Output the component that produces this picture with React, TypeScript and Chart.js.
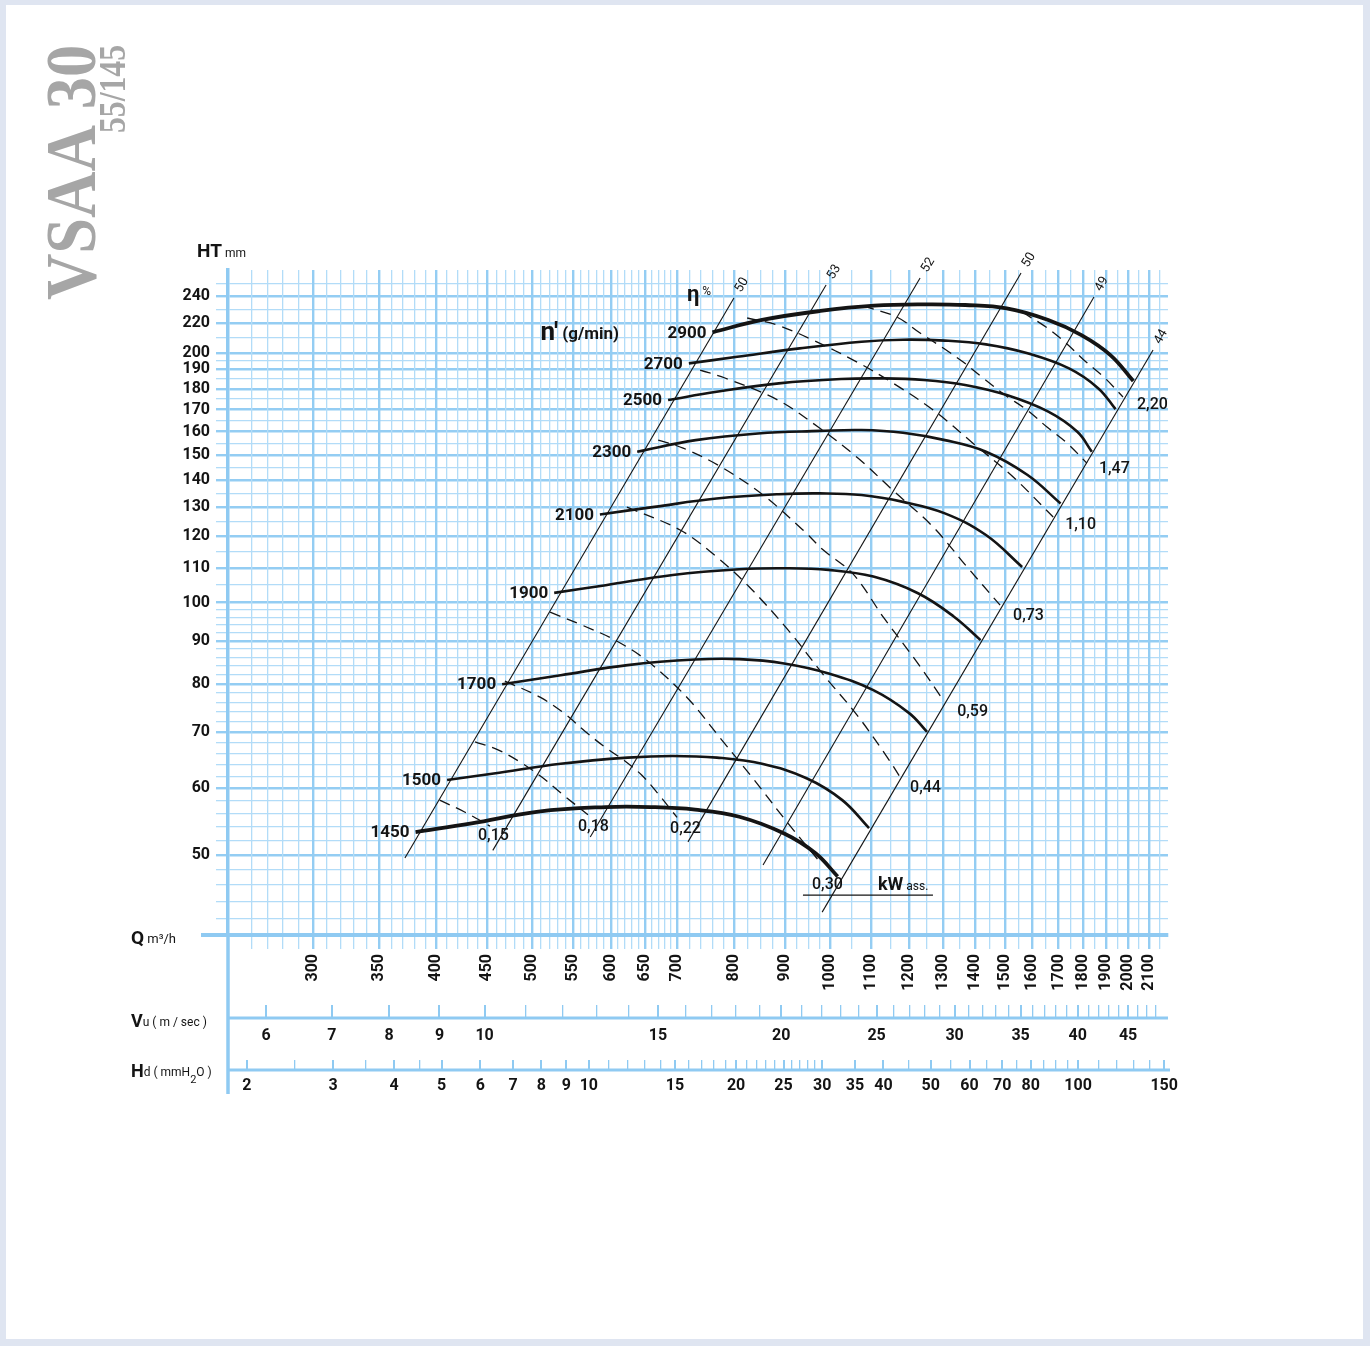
import React, { useEffect, useRef } from 'react';
import { Chart, registerables, LogarithmicScale } from 'chart.js';

Chart.register(...registerables);

// ---------- axis ranges ----------
const Q_MIN = 246.3;
const Q_MAX = 2193;
const H_MIN = 40.1;
const H_MAX = 260.8;
const VU_MIN = 5.49;
const VU_MAX = 49.4;
const HD_MIN = 1.83;
const HD_MAX = 152.7;
// the printed HT scale is logarithmic but a little tighter above 190 mm
const H_KNEE = 190;
const H_TOP_RATE = 0.86;

// ---------- tick labels ----------
const Q_LABELS = [300, 350, 400, 450, 500, 550, 600, 650, 700, 800, 900, 1000, 1100, 1200, 1300, 1400, 1500, 1600, 1700, 1800, 1900, 2000, 2100];
const H_LABELS = [50, 60, 70, 80, 90, 100, 110, 120, 130, 140, 150, 160, 170, 180, 190, 200, 220, 240];
const VU_LABELS = [6, 7, 8, 9, 10, 15, 20, 25, 30, 35, 40, 45];
const HD_LABELS = [2, 3, 4, 5, 6, 7, 8, 9, 10, 15, 20, 25, 30, 35, 40, 50, 60, 70, 80, 100, 150];

// ---------- fan speed curves  [Q m3/h, HT mm] ----------
const SPEED_LABELS = ['2900', '2700', '2500', '2300', '2100', '1900', '1700', '1500', '1450'];
const N2900 = [[760, 213.7], [853, 222.3], [977, 228.8], [1107, 232.7], [1243, 233.7], [1368, 233.2], [1507, 230.7], [1660, 222.3], [1793, 211.8], [1918, 198.7], [2023, 183.9]];
const N2700 = [[719.5, 193.5], [805, 197.6], [931, 203], [1075, 207.4], [1184, 208.7], [1305, 208.1], [1436, 205.6], [1582, 199.8], [1742, 190.4], [1864, 180.3], [1941, 170.2]];
const N2500 = [[685.5, 174.5], [767.5, 178.5], [887, 182.7], [1025, 184.9], [1129, 185.2], [1243, 184.4], [1368, 181.9], [1507, 176.9], [1660, 169], [1776, 159.9], [1837, 151.4]];
const N2300 = [[638, 151.4], [731, 156.3], [845, 159.2], [976, 160.3], [1075, 160.7], [1184, 159.5], [1305, 156.3], [1436, 151.4], [1582, 142], [1708, 131.3]];
const N2100 = [[585, 127.4], [664, 130.1], [767.5, 133.1], [887, 134.7], [976, 135], [1075, 134.4], [1184, 131.9], [1305, 127.8], [1436, 120.4], [1562, 110.3]];
const N1900 = [[526, 102.7], [593, 104.9], [693, 107.9], [809, 109.6], [898, 109.9], [996, 109.4], [1105, 107.4], [1226, 102.6], [1333, 96.2], [1418, 90.2]];
const N1700 = [[466, 79.9], [534, 81.9], [624, 84.2], [730, 85.5], [809, 85.6], [898, 84.6], [996, 82.3], [1105, 78.6], [1201, 73.8], [1252, 70.1]];
const N1500 = [[410, 61.4], [457, 62.5], [534, 64.2], [624, 65.3], [693, 65.6], [768, 65.3], [853, 64.2], [946, 61.7], [1028, 58.1], [1094, 53.8]];
const N1450 = [[381, 53.2], [434, 54.5], [507, 56.3], [593, 57], [658, 57], [730, 56.6], [809, 55.5], [898, 53], [966, 50.2], [1017, 47.1]];
const SPEED_CURVES = [N2900, N2700, N2500, N2300, N2100, N1900, N1700, N1500, N1450];

// ---------- absorbed power lines (kW ass.) ----------
const KW_LABELS = ['0,15', '0,18', '0,22', '0,30', '0,44', '0,59', '0,73', '1,10', '1,47', '2,20'];
const KW_015 = [[403, 58.1], [427.5, 56.2], [453, 54.1]];
const KW_018 = [[437.6, 68.2], [461.6, 66.7], [488, 64.3], [511, 61.9], [535.6, 59.1], [569, 55.8]];
const KW_022 = [[469, 80.6], [509, 77.1], [539.6, 73.6], [565, 70.2], [592, 67.2], [620, 64.7], [645, 62.2], [670, 59.1], [700, 55.4]];
const KW_030 = [[521, 97.4], [561, 94], [606, 90.2], [654, 85.1], [716, 77.1], [774, 68.9], [835, 61.7], [904, 54.7], [976, 49]];
const KW_044 = [[623, 130], [705, 122.1], [768, 113.3], [830, 104.1], [910, 92.2], [983, 82.1], [1064, 73.4], [1141, 65.4], [1176, 61.9]];
const KW_059 = [[670, 156.3], [710, 152.9], [770, 145.9], [853, 134.7], [938, 122.1], [983, 115.6], [1054, 108.2], [1133, 95.8], [1223, 84.9], [1300, 76.5]];
const KW_073 = [[738.5, 189.5], [782.6, 185.4], [885, 174.5], [972, 162], [1066, 148.8], [1156, 136.2], [1270, 123.1], [1374, 110.3], [1484, 99.3]];
const KW_110 = [[824, 223.7], [883, 218.8], [960, 208.5], [1064, 194.3], [1156, 182.9], [1270, 169.8], [1393, 155], [1530, 141.2], [1679, 126.5]];
const KW_147 = [[1079, 232.5], [1167, 224.4], [1232, 213.2], [1300, 203.2], [1362, 194.3], [1426, 185.4], [1501, 176.9], [1580, 169.8], [1655, 162], [1734, 155], [1816, 146.7]];
const KW_220 = [[1562, 228], [1651, 217.3], [1730, 206.5], [1803, 195.6], [1889, 185.9], [1975, 176]];
const KW_CURVES = [KW_015, KW_018, KW_022, KW_030, KW_044, KW_059, KW_073, KW_110, KW_147, KW_220];

// ---------- efficiency lines (η %) ----------
const ETA_LABELS = ['50', '53', '52', '50', '49', '44'];
const ETA_50A = [[371.7, 49.55], [799, 238.4]];
const ETA_53 = [[456, 50.6], [990, 248.6]];
const ETA_52 = [[572, 52.5], [1232, 254.2]];
const ETA_50B = [[718, 51.8], [1558, 258.3]];
const ETA_49 = [[855, 48.6], [1846, 239.2]];
const ETA_44 = [[981, 42.7], [2118, 202]];
const ETA_LINES = [ETA_50A, ETA_53, ETA_52, ETA_50B, ETA_49, ETA_44];

// ---------- styles ----------
const FONT = 'Roboto, "Noto Sans", sans-serif';
const INK = '#141414';
const AXIS_BLUE = '#8fcaf2';
const MAJOR_BLUE = '#94cdf3';
const MINOR_BLUE = '#b2dcf8';
const SPEED_WIDTHS = [3.8, 2.6, 2.6, 2.6, 2.6, 2.6, 2.6, 2.6, 3.8];
// label offsets (px) relative to the end of each kW line: [dx to label left, dy to label middle]
const KW_LABEL_OFFSETS = [[-12, 10], [-10, 12], [-7, 12], [-8, 23], [10, 11], [14, 12], [13, 11], [12, 8], [12, 6], [14, 8]];
const VU_TICK = 13;
const HD_TICK = 10;

// ---------- HT scale: log10, slightly compressed above the knee ----------
const LOG_KNEE = Math.log10(H_KNEE);
const warpH = (v: number) => {
  const l = Math.log10(v);
  return l <= LOG_KNEE ? l : LOG_KNEE + H_TOP_RATE * (l - LOG_KNEE);
};
const unwarpH = (u: number) => Math.pow(10, u <= LOG_KNEE ? u : LOG_KNEE + (u - LOG_KNEE) / H_TOP_RATE);

class KneeLogScale extends (LogarithmicScale as any) {
  static id = 'kneelog';
  static defaults = (LogarithmicScale as any).defaults;
  _u0 = 0;
  _ur = 1;
  configure() {
    super.configure();
    this._u0 = warpH(this.min);
    this._ur = warpH(this.max) - this._u0;
  }
  getPixelForValue(value: any) {
    if (value === undefined || value === 0) value = this.min;
    if (value === null || isNaN(value)) return NaN;
    return this.getPixelForDecimal((warpH(value) - this._u0) / this._ur);
  }
  getValueForPixel(pixel: number) {
    const d = this.getDecimalForPixel(pixel);
    return unwarpH(this._u0 + d * this._ur);
  }
}
Chart.register(KneeLogScale as any);

function range(a: number, b: number, step: number) {
  const out: number[] = [];
  for (let v = a; v <= b + 1e-9; v += step) out.push(Math.round(v * 100) / 100);
  return out;
}
function uniqSorted(arr: number[]) {
  return Array.from(new Set(arr)).sort((x, y) => x - y);
}

const Q_GRID = uniqSorted([...range(260, 700, 10), ...range(720, 800, 20), ...range(825, 1000, 25), ...range(1050, 2150, 50), ...Q_LABELS]);
const H_GRID = uniqSorted([...range(42, 98, 2), ...range(100, 200, 5), 210, 230, 250, ...H_LABELS]);
const VU_GRID = uniqSorted([...range(6, 48, 1), ...VU_LABELS]);
const HD_GRID = uniqSorted([2, 2.5, 3, 3.5, 4, 4.5, 5, 6, 7, 8, 9, ...range(10, 30, 1), 35, 40, 45, ...range(50, 100, 5), 110, 120, 130, 140, 150, ...HD_LABELS]);

const Q_SET = new Set(Q_LABELS);
const H_SET = new Set(H_LABELS);
const VU_SET = new Set(VU_LABELS);
const HD_SET = new Set(HD_LABELS);

const toXY = (pts: number[][]) => pts.map(([x, y]) => ({ x, y }));

function seg(ctx: CanvasRenderingContext2D, x1: number, y1: number, x2: number, y2: number) {
  ctx.beginPath();
  ctx.moveTo(x1, y1);
  ctx.lineTo(x2, y2);
  ctx.stroke();
}
function runs(ctx: CanvasRenderingContext2D, x: number, y: number, parts: [string, string, number][]) {
  let cx = x;
  for (const [t, f, dy] of parts) {
    ctx.font = f;
    ctx.fillText(t, cx, y + dy);
    cx += ctx.measureText(t).width;
  }
}

const annotate = {
  id: 'annotate',
  afterDraw(chart: any) {
    const { ctx, chartArea: ca, scales } = chart;
    const q = scales.q, h = scales.h, vu = scales.vu, hd = scales.hd;
    const P = (pt: number[]) => [q.getPixelForValue(pt[0]), h.getPixelForValue(pt[1])];
    ctx.save();

    // axis lines outside the plotting area
    ctx.strokeStyle = AXIS_BLUE;
    ctx.lineWidth = 3.5;
    seg(ctx, ca.left, ca.bottom, ca.left, hd.top + HD_TICK + 24);
    ctx.lineWidth = 4;
    seg(ctx, ca.left - 27, ca.bottom, ca.left, ca.bottom);
    ctx.lineWidth = 3;
    seg(ctx, ca.left, vu.top + VU_TICK, ca.right, vu.top + VU_TICK);
    seg(ctx, ca.left, hd.top + HD_TICK, ca.right + 2, hd.top + HD_TICK);

    ctx.fillStyle = INK;
    ctx.textBaseline = 'alphabetic';
    ctx.textAlign = 'left';

    // axis titles
    runs(ctx, ca.left - 31, ca.top - 13, [['HT', `bold 19px ${FONT}`, 0], [' mm', `12px ${FONT}`, 0]]);
    runs(ctx, ca.left - 97, ca.bottom + 9, [['Q', `bold 19px ${FONT}`, 0], [' m³/h', `13px ${FONT}`, -1]]);
    runs(ctx, ca.left - 97, vu.top + VU_TICK + 9, [['V', `bold 18px ${FONT}`, 0], ['u ( m / sec )', `12px ${FONT}`, -1]]);
    runs(ctx, ca.left - 97, hd.top + HD_TICK + 7, [['H', `bold 18px ${FONT}`, 0], ['d ( mmH', `12px ${FONT}`, -1], ['2', `11px ${FONT}`, 6], ['O )', `12px ${FONT}`, -1]]);

    // speed labels
    ctx.textAlign = 'right';
    ctx.textBaseline = 'middle';
    ctx.font = `bold 17px ${FONT}`;
    SPEED_CURVES.forEach((pts, i) => {
      const [x, y] = P(pts[0]);
      ctx.fillText(SPEED_LABELS[i], x - 6, y + 1);
    });
    const [sx, sy] = P(N2900[0]);
    ctx.textAlign = 'left';
    ctx.textBaseline = 'alphabetic';
    runs(ctx, sx - 172, sy + 8, [["n'", `bold 26px ${FONT}`, 0], [' (g/min)', `bold 17px ${FONT}`, -1]]);

    // kW labels
    ctx.font = `500 16px ${FONT}`;
    ctx.textBaseline = 'middle';
    KW_CURVES.forEach((pts, i) => {
      const [x, y] = P(pts[pts.length - 1]);
      const [dx, dy] = KW_LABEL_OFFSETS[i];
      ctx.fillText(KW_LABELS[i], x + dx, y + dy);
    });
    const [kx, ky] = P(KW_030[KW_030.length - 1]);
    ctx.textBaseline = 'alphabetic';
    runs(ctx, kx + 58, ky + 28, [['kW', `bold 18px ${FONT}`, 0], [' ass.', `12px ${FONT}`, 0]]);
    ctx.strokeStyle = INK;
    ctx.lineWidth = 1.3;
    seg(ctx, kx - 17, ky + 33, kx + 113, ky + 33);

    // efficiency labels
    ctx.font = `13px ${FONT}`;
    ctx.textAlign = 'center';
    ctx.textBaseline = 'middle';
    ETA_LINES.forEach((pts, i) => {
      const [x, y] = P(pts[1]);
      ctx.save();
      ctx.translate(x + 8, y - 13);
      ctx.rotate(-59.5 * Math.PI / 180);
      ctx.fillText(ETA_LABELS[i], 0, 0);
      ctx.restore();
    });
    const [ex, ey] = P(ETA_50A[1]);
    ctx.textAlign = 'left';
    ctx.textBaseline = 'alphabetic';
    runs(ctx, ex - 47, ey + 3, [['η', `bold 22px ${FONT}`, 0], [' %', `12px ${FONT}`, -6]]);

    // model title
    ctx.fillStyle = '#a6a6a6';
    const title = (text: string, font: string, bx: number, by: number, len: number) => {
      ctx.save();
      ctx.font = font;
      const w = ctx.measureText(text).width;
      ctx.translate(bx, by);
      ctx.rotate(-Math.PI / 2);
      ctx.scale(len / w, 1);
      ctx.textAlign = 'left';
      ctx.textBaseline = 'alphabetic';
      ctx.fillText(text, 0, 0);
      ctx.restore();
    };
    title('VSAA 30', 'bold 72px "Liberation Serif", "DejaVu Serif", serif', 95, 300, 255);
    title('55/145', 'bold 38px "Liberation Serif", "DejaVu Serif", serif', 125, 133, 88);

    ctx.restore();
  },
};

const tickFont = { family: FONT, size: 16, weight: 'bold' as const };

export default function App() {
  const ref = useRef<HTMLCanvasElement | null>(null);

  useEffect(() => {
    if (!ref.current) return;
    const speedSets = SPEED_CURVES.map((pts, i) => ({
      label: SPEED_LABELS[i] + ' g/min',
      data: toXY(pts),
      borderColor: INK,
      borderWidth: SPEED_WIDTHS[i],
      pointRadius: 0,
      tension: 0.4,
      fill: false,
      xAxisID: 'q',
      yAxisID: 'h',
    }));
    const kwSets = KW_CURVES.map((pts, i) => ({
      label: KW_LABELS[i] + ' kW',
      data: toXY(pts),
      borderColor: INK,
      borderWidth: 1.3,
      borderDash: [11, 7],
      pointRadius: 0,
      tension: 0.35,
      fill: false,
      xAxisID: 'q',
      yAxisID: 'h',
    }));
    const etaSets = ETA_LINES.map((pts, i) => ({
      label: 'η ' + ETA_LABELS[i] + '%',
      data: toXY(pts),
      borderColor: INK,
      borderWidth: 1.1,
      pointRadius: 0,
      tension: 0,
      fill: false,
      xAxisID: 'q',
      yAxisID: 'h',
    }));

    const chart = new Chart(ref.current, {
      type: 'line',
      data: { datasets: [...speedSets, ...kwSets, ...etaSets] as any },
      plugins: [annotate],
      options: {
        responsive: false,
        animation: false,
        events: [],
        layout: { autoPadding: false, padding: { left: 0, top: 270, right: 202, bottom: 236 } },
        plugins: { legend: { display: false }, tooltip: { enabled: false } },
        scales: {
          h: {
            type: 'kneelog',
            axis: 'y',
            position: 'left',
            min: H_MIN,
            max: H_MAX,
            afterBuildTicks: (s: any) => { s.ticks = H_GRID.map((v) => ({ value: v })); },
            afterFit: (s: any) => { s.width = 228; },
            grid: {
              color: (c: any) => (H_SET.has(c.tick?.value) ? MAJOR_BLUE : MINOR_BLUE),
              lineWidth: (c: any) => (H_SET.has(c.tick?.value) ? 2.4 : 1.3),
              tickLength: 12,
            },
            border: { display: true, color: AXIS_BLUE, width: 3.5 },
            ticks: {
              autoSkip: false,
              padding: 6,
              color: INK,
              font: tickFont,
              callback: (v: any) => (H_SET.has(Number(v)) ? String(v) : ''),
            },
          },
          q: {
            type: 'logarithmic',
            axis: 'x',
            position: 'bottom',
            weight: 0,
            min: Q_MIN,
            max: Q_MAX,
            afterBuildTicks: (s: any) => { s.ticks = Q_GRID.map((v) => ({ value: v })); },
            afterFit: (s: any) => { s.height = 70; },
            grid: {
              color: (c: any) => (Q_SET.has(c.tick?.value) ? MAJOR_BLUE : MINOR_BLUE),
              lineWidth: (c: any) => (Q_SET.has(c.tick?.value) ? 2.4 : 1.3),
              tickLength: 14,
            },
            border: { display: true, color: AXIS_BLUE, width: 4 },
            ticks: {
              autoSkip: false,
              minRotation: 90,
              maxRotation: 90,
              padding: 5,
              color: INK,
              font: tickFont,
              callback: (v: any) => (Q_SET.has(Number(v)) ? String(v) : ''),
            },
          },
          vu: {
            type: 'logarithmic',
            axis: 'x',
            position: 'bottom',
            weight: 1,
            min: VU_MIN,
            max: VU_MAX,
            afterBuildTicks: (s: any) => { s.ticks = VU_GRID.map((v) => ({ value: v })); },
            afterFit: (s: any) => { s.height = 55; },
            grid: {
              drawOnChartArea: false,
              color: AXIS_BLUE,
              lineWidth: (c: any) => (VU_SET.has(c.tick?.value) ? 2 : 1.3),
              tickLength: VU_TICK,
            },
            border: { display: false },
            ticks: {
              autoSkip: false,
              maxRotation: 0,
              padding: 8,
              color: INK,
              font: tickFont,
              callback: (v: any) => (VU_SET.has(Number(v)) ? String(v) : ''),
            },
          },
          hd: {
            type: 'logarithmic',
            axis: 'x',
            position: 'bottom',
            weight: 2,
            min: HD_MIN,
            max: HD_MAX,
            afterBuildTicks: (s: any) => { s.ticks = HD_GRID.map((v) => ({ value: v })); },
            afterFit: (s: any) => { s.height = 50; },
            grid: {
              drawOnChartArea: false,
              color: AXIS_BLUE,
              lineWidth: (c: any) => (HD_SET.has(c.tick?.value) ? 2 : 1.3),
              tickLength: HD_TICK,
            },
            border: { display: false },
            ticks: {
              autoSkip: false,
              maxRotation: 0,
              padding: 6,
              color: INK,
              font: tickFont,
              callback: (v: any) => (HD_SET.has(Number(v)) ? String(v) : ''),
            },
          },
        },
      } as any,
    });
    return () => chart.destroy();
  }, []);

  return (
    <div style={{ position: 'fixed', left: 0, top: 0, width: 1370, height: 1346, background: '#dfe5f1', overflow: 'hidden' }}>
      <div style={{ position: 'absolute', left: 6, top: 5, width: 1357, height: 1334, background: '#ffffff' }} />
      <canvas ref={ref} width={1370} height={1346} style={{ position: 'absolute', left: 0, top: 0 }} />
    </div>
  );
}
